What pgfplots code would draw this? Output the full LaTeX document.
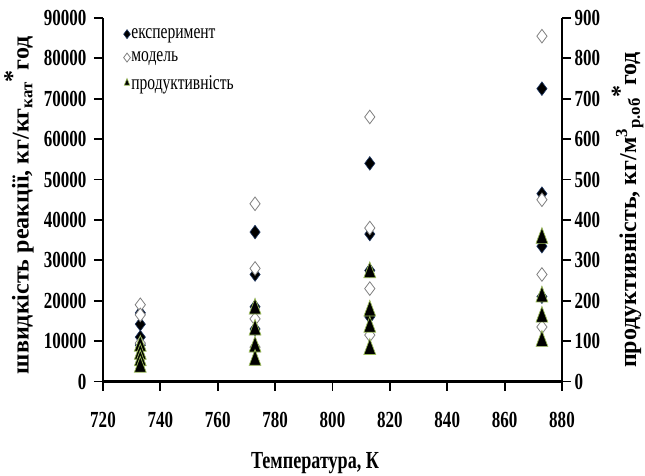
\documentclass[border=0pt]{standalone}
\usepackage{pgfplots}
\pgfplotsset{compat=1.18}
\usepackage{fontspec}
\setmainfont{Liberation Serif}
\newfontfamily\cond[FakeStretch=0.74]{Liberation Serif}

\definecolor{expedge}{RGB}{31,56,100}
\definecolor{modedge}{RGB}{128,128,128}
\definecolor{prodedge}{RGB}{155,187,89}

\begin{document}
\begin{tikzpicture}
% fixed frame around the two overlaid axes
\path[use as bounding box] (-103pt,-93.5pt) rectangle (542pt,381.5pt);
\pgfplotsset{
  common/.style={
    scale only axis,
    width=459pt, height=363.5pt,
    xmin=720, xmax=880,
    tick align=outside,
    major tick length=9pt,
    every tick/.style={black, line width=1.8pt},
    axis line style={line width=2.2pt},
    ticklabel style={font=\cond\bfseries\fontsize{23}{25}\selectfont},
    /pgf/number format/assume math mode=true,
    /pgf/number format/1000 sep={},
    scaled y ticks=false,
  }
}
% reaction rate (left axis)
\begin{axis}[
  common,
  axis x line*=bottom,
  axis y line*=left,
  ymin=0, ymax=90000,
  xtick={720,740,...,880},
  ytick={0,10000,...,90000},
  xticklabel style={yshift=-18pt},
  yticklabel style={xshift=-4pt},
  xlabel={Температура, К},
  xlabel style={font=\cond\bfseries\fontsize{24.5}{26}\selectfont,
    at={(axis description cs:0.462,-0.224)}, anchor=center},
  ylabel={швидкість реакції, кг/кг\textsubscript{кат}\raisebox{0.35em}{*}год},
  ylabel style={font=\bfseries\fontsize{24}{26}\selectfont,
    at={(axis description cs:-0.183,0.485)}, anchor=center},
  legend style={at={(axis description cs:0.038,0.98)}, anchor=north west,
    draw=none, fill=none,
    font=\cond\fontsize{21}{22}\selectfont, row sep=10pt,
    nodes={inner sep=1pt}},
  legend cell align=left,
  legend image code/.code={\draw[#1,mark size=4.5pt] plot coordinates {(0.12cm,0cm)};},
]
\addplot[only marks, mark=diamond*, mark size=6.8pt,
  mark options={fill=black, draw=expedge, line width=0.6pt}]
  table {
    x y
    733 17000
    733 14200
    733 11000
    733 9000
    773 37000
    773 26500
    773 18500
    773 13000
    813 54000
    813 36500
    813 27500
    813 16000
    873 72500
    873 46500
    873 33500
    873 21000
  };
\addlegendentry{експеримент}
\addplot[only marks, mark=diamond*, mark size=6.8pt,
  mark options={fill=white, draw=modedge, line width=0.8pt}]
  table {
    x y
    733 19000
    733 16500
    733 9500
    773 44000
    773 28000
    773 15500
    773 8500
    813 65500
    813 38000
    813 23000
    813 11500
    873 85500
    873 45000
    873 26500
    873 13500
  };
\addlegendentry{модель}
\addlegendimage{only marks, mark=triangle*, mark size=6pt,
  mark options={fill=black, draw=prodedge, line width=0.6pt, xscale=0.7}}
\addlegendentry{продуктивність}
\end{axis}

% productivity (right axis)
\begin{axis}[
  common,
  axis x line=none,
  axis y line*=right,
  ymin=0, ymax=900,
  ytick={0,100,...,900},
  ylabel={продуктивність, кг/м\textsuperscript{3}\textsubscript{р.об}\raisebox{0.35em}{*}год},
  ylabel style={font=\bfseries\fontsize{24}{26}\selectfont,
    at={(axis description cs:1.143,0.472)}, anchor=center},
]
\addplot[only marks, mark=triangle*, mark size=10.5pt,
  mark options={fill=black, draw=prodedge, line width=0.7pt, xscale=0.65}]
  table {
    x y
    733 88
    733 68
    733 52
    733 36
    773 180
    773 128
    773 86
    773 53
    813 270
    813 175
    813 135
    813 80
    873 355
    873 210
    873 160
    873 100
  };
\end{axis}
\end{tikzpicture}
\end{document}
